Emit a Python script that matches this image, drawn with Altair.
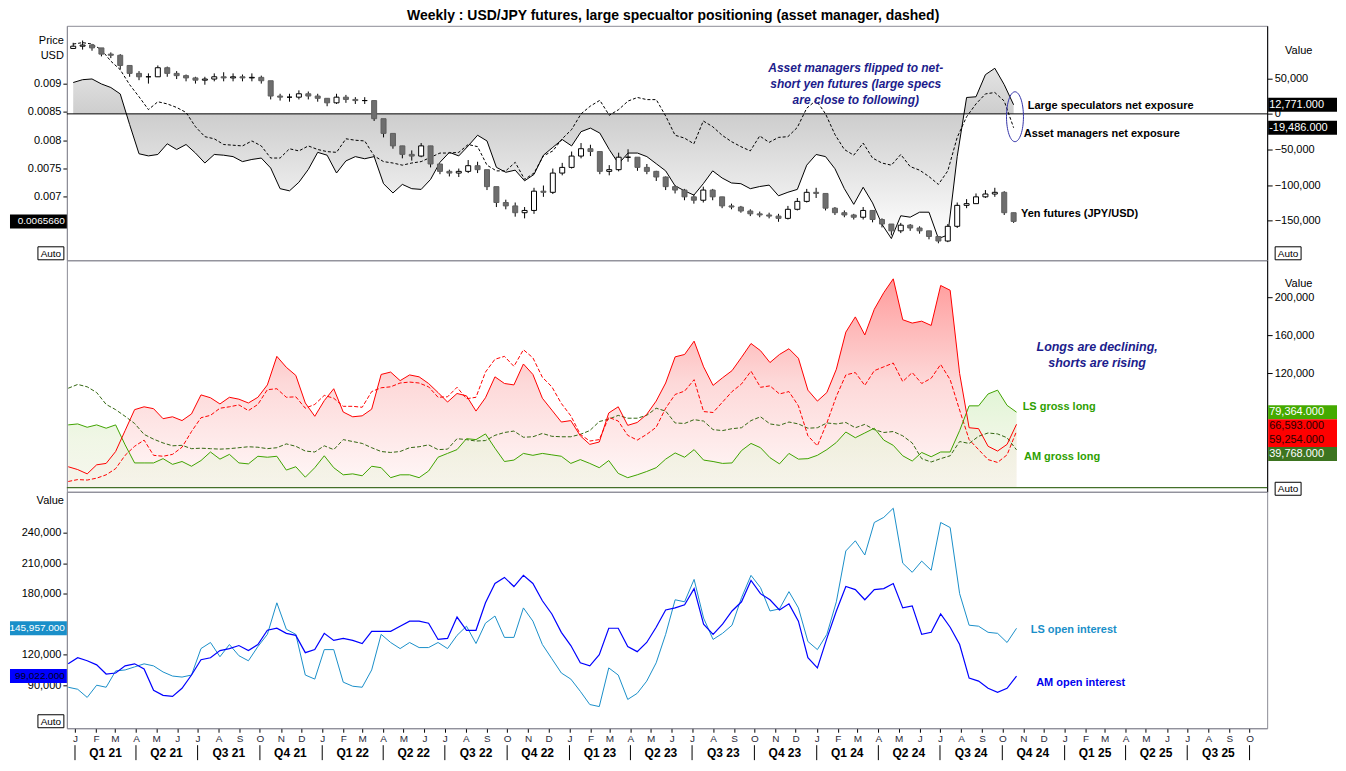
import altair as alt
import pandas as pd

# ---------------- data ----------------
# COT report dates, every second week from 22 Dec 2020 to 22 Oct 2024
cot_dates = pd.date_range("2020-12-22", periods=101, freq="14D").strftime("%Y-%m-%d").tolist()

# net exposure, thousands of contracts
ls_net_k = [44, 48, 49, 42, 37, 28, -15, -56, -59, -57,
            -42, -50, -43, -55, -69, -57, -58, -60, -67, -64,
            -62, -76, -105, -108, -96, -78, -54, -58, -83, -66,
            -60, -63, -60, -98, -111, -99, -105, -106, -92, -68,
            -54, -59, -45, -30, -38, -75, -82, -79, -94, -85,
            -58, -47, -36, -45, -25, -20, -27, -50, -70, -55,
            -55, -60, -70, -80, -101, -108, -114, -98, -80, -90,
            -97, -98, -105, -102, -100, -115, -110, -106, -72, -57,
            -60, -77, -105, -127, -103, -125, -155, -175, -143, -145,
            -138, -138, -175, -170, -60, 23, 24, 55, 64, 41, 12.771]
am_net_k = [98, 100, 98, 90, 74, 62, 41, 24, 6, 17,
            14, 9, 2, -18, -32, -35, -43, -44, -45, -38,
            -45, -62, -62, -49, -52, -45, -50, -53, -54, -35,
            -37, -38, -59, -67, -69, -72, -69, -67, -61, -55,
            -55, -54, -43, -46, -72, -80, -80, -68, -92, -83,
            -59, -52, -35, -22, 0, 11, 19, -2, 6, 18,
            23, 20, 20, -3, -30, -34, -42, -10, -18, -30,
            -39, -46, -52, -31, -40, -33, -32, -19, 8, 19,
            0, -29, -50, -58, -41, -62, -69, -72, -57, -74,
            -79, -88, -99, -80, -33, -4, 14, 28, 30, 18, -19.486]
# open interest (gross long + gross short), thousands
ls_oi_k = [88, 86, 78, 90, 88, 104, 105, 108, 111, 109,
           103, 99, 98, 100, 126, 132, 118, 130, 119, 114,
           128, 140, 171, 145, 140, 100, 96, 125, 125, 93,
           89, 88, 105, 140, 132, 126, 132, 127, 127, 132,
           126, 139, 148, 131, 151, 158, 137, 137, 166, 153,
           130, 116, 102, 96, 84, 71, 69, 107, 100, 76,
           82, 94, 112, 140, 174, 172, 194, 156, 135, 141,
           149, 176, 198, 186, 163, 165, 182, 166, 133, 125,
           140, 172, 222, 232, 218, 250, 255, 264, 210, 201,
           212, 203, 250, 245, 180, 149, 148, 142, 141, 132, 145.957]
am_oi_k = [111, 117, 114, 110, 101, 102, 109, 111, 106, 85,
           80, 79, 87, 100, 115, 117, 124, 126, 129, 124,
           130, 144, 146, 141, 139, 122, 125, 141, 134, 136,
           134, 131, 143, 143, 143, 148, 153, 153, 151, 135,
           136, 157, 144, 144, 171, 190, 196, 187, 198, 190,
           173, 160, 142, 129, 112, 109, 120, 146, 146, 128,
           123, 132, 147, 164, 166, 169, 185, 150, 140, 150,
           163, 172, 193, 180, 174, 164, 170, 153, 117, 107,
           136, 163, 187, 184, 174, 184, 185, 190, 166, 168,
           140, 142, 160, 147, 130, 97, 94, 87, 83, 87, 99.022]

# yen futures (JPY/USD), two-week candles
price_close = [0.00966, 0.00968, 0.00963, 0.00952, 0.00950, 0.00932, 0.00918, 0.00912, 0.00912, 0.00928,
               0.00918, 0.00914, 0.00910, 0.00906, 0.00908, 0.00912, 0.00910, 0.00912, 0.00910, 0.00911,
               0.00905, 0.00878, 0.00876, 0.00876, 0.00882, 0.00878, 0.00874, 0.00866, 0.00876, 0.00872,
               0.00870, 0.00870, 0.00838, 0.00812, 0.00790, 0.00775, 0.00772, 0.00790, 0.00758, 0.00745,
               0.00742, 0.00745, 0.00755, 0.00748, 0.00718, 0.00690, 0.00684, 0.00672, 0.00676, 0.00710,
               0.00708, 0.00742, 0.00752, 0.00772, 0.00785, 0.00780, 0.00745, 0.00748, 0.00770, 0.00770,
               0.00752, 0.00745, 0.00735, 0.00718, 0.00712, 0.00700, 0.00694, 0.00712, 0.00700, 0.00684,
               0.00682, 0.00675, 0.00670, 0.00668, 0.00666, 0.00662, 0.00678, 0.00692, 0.00708, 0.00706,
               0.00680, 0.00672, 0.00668, 0.00664, 0.00676, 0.00660, 0.00652, 0.00640, 0.00650, 0.00645,
               0.00640, 0.00630, 0.00622, 0.00648, 0.00685, 0.00688, 0.00700, 0.00705, 0.00708, 0.00672,
               0.006566]
price_high = [0.00972, 0.00976, 0.00970, 0.00962, 0.00955, 0.00952, 0.00928, 0.00922, 0.00918, 0.00932,
              0.00930, 0.00922, 0.00916, 0.00912, 0.00912, 0.00918, 0.00920, 0.00918, 0.00916, 0.00918,
              0.00914, 0.00904, 0.00882, 0.00882, 0.00888, 0.00886, 0.00882, 0.00874, 0.00882, 0.00880,
              0.00876, 0.00876, 0.00870, 0.00834, 0.00810, 0.00790, 0.00782, 0.00795, 0.00790, 0.00758,
              0.00748, 0.00750, 0.00765, 0.00762, 0.00740, 0.00715, 0.00695, 0.00690, 0.00682, 0.00716,
              0.00720, 0.00750, 0.00760, 0.00780, 0.00795, 0.00792, 0.00770, 0.00756, 0.00778, 0.00784,
              0.00768, 0.00758, 0.00746, 0.00736, 0.00720, 0.00714, 0.00704, 0.00718, 0.00714, 0.00700,
              0.00688, 0.00684, 0.00678, 0.00674, 0.00672, 0.00670, 0.00684, 0.00698, 0.00714, 0.00716,
              0.00704, 0.00682, 0.00676, 0.00670, 0.00682, 0.00676, 0.00662, 0.00652, 0.00654, 0.00652,
              0.00648, 0.00640, 0.00630, 0.00652, 0.00690, 0.00696, 0.00706, 0.00712, 0.00716, 0.00710,
              0.00672]
price_low = [0.00962, 0.00960, 0.00958, 0.00948, 0.00945, 0.00925, 0.00912, 0.00906, 0.00900, 0.00912,
             0.00912, 0.00908, 0.00904, 0.00900, 0.00898, 0.00904, 0.00904, 0.00904, 0.00904, 0.00904,
             0.00900, 0.00872, 0.00870, 0.00868, 0.00872, 0.00872, 0.00868, 0.00860, 0.00864, 0.00866,
             0.00864, 0.00864, 0.00834, 0.00805, 0.00785, 0.00768, 0.00764, 0.00770, 0.00752, 0.00740,
             0.00736, 0.00735, 0.00742, 0.00742, 0.00712, 0.00682, 0.00678, 0.00665, 0.00662, 0.00670,
             0.00700, 0.00705, 0.00738, 0.00750, 0.00768, 0.00772, 0.00740, 0.00738, 0.00745, 0.00762,
             0.00746, 0.00740, 0.00728, 0.00712, 0.00706, 0.00694, 0.00688, 0.00690, 0.00694, 0.00680,
             0.00678, 0.00672, 0.00666, 0.00664, 0.00662, 0.00656, 0.00660, 0.00676, 0.00690, 0.00698,
             0.00676, 0.00668, 0.00664, 0.00660, 0.00660, 0.00655, 0.00646, 0.00632, 0.00636, 0.00640,
             0.00635, 0.00625, 0.00618, 0.00620, 0.00645, 0.00680, 0.00690, 0.00698, 0.00700, 0.00668,
             0.00654]
price_open = [0.00962] + price_close[:-1]

# axis tick labels
quarter_labels = ["Q1 21", "Q2 21", "Q3 21", "Q4 21", "Q1 22", "Q2 22", "Q3 22", "Q4 22",
                  "Q1 23", "Q2 23", "Q3 23", "Q4 23", "Q1 24", "Q2 24", "Q3 24", "Q4 24",
                  "Q1 25", "Q2 25", "Q3 25"]
quarter_mid = ["2021-02-15", "2021-05-16", "2021-08-16", "2021-11-15",
               "2022-02-15", "2022-05-16", "2022-08-16", "2022-11-15",
               "2023-02-15", "2023-05-16", "2023-08-16", "2023-11-15",
               "2024-02-15", "2024-05-16", "2024-08-16", "2024-11-15",
               "2025-02-15", "2025-05-16", "2025-08-16"]
quarter_start = ["2021-01-01", "2021-04-01", "2021-07-01", "2021-10-01",
                 "2022-01-01", "2022-04-01", "2022-07-01", "2022-10-01",
                 "2023-01-01", "2023-04-01", "2023-07-01", "2023-10-01",
                 "2024-01-01", "2024-04-01", "2024-07-01", "2024-10-01",
                 "2025-01-01", "2025-04-01", "2025-07-01", "2025-10-01"]

# ---------------- tables ----------------
df = pd.DataFrame({
    "date": cot_dates,
    "ls_net": [round(v * 1000) for v in ls_net_k],
    "am_net": [round(v * 1000) for v in am_net_k],
    "ls_oi": [round(v * 1000) for v in ls_oi_k],
    "am_oi": [round(v * 1000) for v in am_oi_k],
})
cdf = pd.DataFrame({"date": cot_dates, "open": price_open, "close": price_close,
                    "high": price_high, "low": price_low})

last = df.iloc[-1]
ls_long_last = (last.ls_oi + last.ls_net) / 2
ls_short_last = (last.ls_oi - last.ls_net) / 2
am_long_last = (last.am_oi + last.am_net) / 2
am_short_last = (last.am_oi - last.am_net) / 2

# ---------------- styling ----------------
FONT = "Liberation Sans"
W, H1, H2, H3 = 1203, 235, 232, 237
NAVY = "#1c1c8c"

xs = alt.Scale(type="utc", domain=[alt.DateTime(year=2020, month=12, date=20, utc=True),
                                   alt.DateTime(year=2025, month=10, date=27, utc=True)])
price_scale = alt.Scale(domain=[0.00588, 0.01002], nice=False, zero=False)
net_scale = alt.Scale(domain=[-205500, 123600], nice=False, zero=False)
gross_scale = alt.Scale(domain=[-4300, 239000], nice=False, zero=False)
oi_scale = alt.Scale(domain=[47700, 280200], nice=False, zero=False)

x_axis = alt.Axis(tickCount=alt.TimeIntervalStep(interval="month", step=1),
                  labelExpr="slice(utcFormat(datum.value, '%b'), 0, 1)", title=None, grid=False,
                  tickSize=4, tickColor="black", domainColor="#8c8c96", labelFont=FONT,
                  labelFontSize=10, labelColor="#2a2a3a", labelPadding=1, labelOverlap=False,
                  labelFlush=False)


def X(axis=None):
    return alt.X("date:T", scale=xs, axis=axis)


one = pd.DataFrame({"a": [0]})

RECT_R = "M -1 -0.2029 L 1 -0.2029 L 1 0.2029 L -1 0.2029 Z"    # 69 x 14 box
RECT_L = "M -1 -0.2456 L 1 -0.2456 L 1 0.2456 L -1 0.2456 Z"    # 57 x 14 box
RECT_A = "M -1 -0.5 L 1 -0.5 L 1 0.5 L -1 0.5 Z"                # 26 x 13 box
ELLIPSE = ("M 0 -1 C 0.1878 -1 0.34 -0.5523 0.34 0 C 0.34 0.5523 0.1878 1 0 1 "
           "C -0.1878 1 -0.34 0.5523 -0.34 0 C -0.34 -0.5523 -0.1878 -1 0 -1 Z")


def px_text(text, x, y, size=11, align="left", color="black", weight="normal", style="normal", lh=15):
    return alt.Chart(one).mark_text(text=text, font=FONT, fontSize=size, align=align, baseline="middle",
                                    color=color, fontWeight=weight, fontStyle=style,
                                    lineHeight=lh).encode(x=alt.value(x), y=alt.value(y))


def auto_box(x, y):
    box = alt.Chart(one).mark_point(shape=RECT_A, size=676, filled=True, color="white", stroke="black",
                                    strokeWidth=1, opacity=1).encode(x=alt.value(x), y=alt.value(y))
    txt = px_text("Auto", x, y + 0.5, size=10, align="center")
    return [box, txt]


def value_boxes(rows, scale, x_center, shape, size, text_x, align, fsize):
    """rows: list of (value, label, background, text colour, pixel offset)"""
    layers = []
    for v, label, bg, fg, off in rows:
        d = pd.DataFrame({"v": [v]})
        layers.append(alt.Chart(d).mark_point(shape=shape, size=size, filled=True, opacity=1,
                                              strokeWidth=0, color=bg, yOffset=off).encode(
            x=alt.value(x_center), y=alt.Y("v:Q", scale=scale, axis=None)))
        layers.append(alt.Chart(d).mark_text(text=label, font=FONT, fontSize=fsize, align=align,
                                             baseline="middle", color=fg, yOffset=off).encode(
            x=alt.value(text_x), y=alt.Y("v:Q", scale=scale, axis=None)))
    return layers


# ---------------- top panel ----------------
gray_grad = alt.Gradient(gradient="linear", x1=1, x2=1, y1=0, y2=1, stops=[
    alt.GradientStop(color="#e4e4e4", offset=0),
    alt.GradientStop(color="#cdcdcd", offset=0.27),
    alt.GradientStop(color="#ffffff", offset=1)])

net_axis = alt.Axis(orient="right", values=[-150000, -100000, -50000, 0, 50000],
                    labelExpr="format(datum.value, ',')", title=None,
                    tickSize=5, tickColor="black", domainColor="black", labelPadding=2, grid=False)
price_axis = alt.Axis(orient="left", values=[0.007, 0.0075, 0.008, 0.0085, 0.009],
                      labelExpr="format(datum.value, '.4~f')", title=None, tickSize=4, tickColor="black",
                      domainColor="#8c8c96", labelPadding=2, grid=False)

base = alt.Chart(df)
net_area = base.mark_area(color=gray_grad, opacity=1).encode(
    x=X(), y=alt.Y("ls_net:Q", scale=net_scale, axis=net_axis), y2=alt.datum(0))
zero_rule = alt.Chart(one).mark_rule(color="black", strokeWidth=1).encode(
    y=alt.Y(datum=0, scale=net_scale, axis=None))
am_net_line = base.mark_line(color="black", strokeWidth=1, strokeDash=[3, 2]).encode(
    x=X(), y=alt.Y("am_net:Q", scale=net_scale, axis=None))
ls_net_line = base.mark_line(color="black", strokeWidth=1).encode(
    x=X(), y=alt.Y("ls_net:Q", scale=net_scale, axis=None))

wick = alt.Chart(cdf).mark_rule(color="black", strokeWidth=1).encode(
    x=X(), y=alt.Y("low:Q", scale=price_scale, axis=price_axis), y2="high:Q")
body = alt.Chart(cdf).mark_bar(width=5, strokeWidth=1).encode(
    x=X(), y=alt.Y("open:Q", scale=price_scale, axis=None), y2="close:Q",
    fill=alt.condition("datum.close >= datum.open", alt.value("white"), alt.value("#6e6e6e")),
    stroke=alt.condition("datum.close >= datum.open", alt.value("black"), alt.value("#5e5e5e")))

ellipse = alt.Chart(pd.DataFrame({"date": ["2024-10-24"], "v": [-4000]})).mark_point(
    shape=ELLIPSE, size=2500, filled=False, color="#3434a8", strokeWidth=1, opacity=1).encode(
    x=X(), y=alt.Y("v:Q", scale=net_scale, axis=None))

net_notes = pd.DataFrame({"date": ["2024-11-12", "2024-11-06"], "v": [11000, -27800],
                          "label": ["Large speculators net exposure", "Asset managers net exposure"]})
net_text = alt.Chart(net_notes).mark_text(font=FONT, fontSize=11, fontWeight="bold", align="left",
                                          baseline="middle", color="black").encode(
    x=X(), y=alt.Y("v:Q", scale=net_scale, axis=None), text="label:N")
yen_text = alt.Chart(pd.DataFrame({"date": ["2024-11-02"], "p": [0.006696]})).mark_text(
    text="Yen futures (JPY/USD)", font=FONT, fontSize=11, fontWeight="bold", align="left",
    baseline="middle", color="black").encode(x=X(), y=alt.Y("p:Q", scale=price_scale, axis=None))
flip_text = alt.Chart(pd.DataFrame({"date": ["2024-03-01"], "v": [63900]})).mark_text(
    text=["Asset managers flipped to net-", "short yen futures (large specs", "are close to following)"],
    font=FONT, fontSize=12, fontWeight="bold", fontStyle="italic", align="center", baseline="middle",
    color=NAVY, lineHeight=16).encode(x=X(), y=alt.Y("v:Q", scale=net_scale, axis=None))

top_layers = [net_area, zero_rule, am_net_line, ls_net_line, wick, body, ellipse,
              net_text, yen_text, flip_text,
              px_text(["Price", "USD"], -3, 15, size=11, align="right"),
              px_text("Value", W + 18, 25, size=11)]
top_layers += value_boxes([(last.ls_net, f"{last.ls_net:,.3f}", "black", "white", 0),
                           (last.am_net, f"{last.am_net:,.3f}", "black", "white", 0)],
                          net_scale, W + 35.5, RECT_R, 4761, W + 2, "left", 11)
top_layers += value_boxes([(price_close[-1], f"{price_close[-1]:.7f}", "black", "white", 0)],
                          price_scale, -28.5, RECT_L, 3249, -2, "right", 10)
top_layers += auto_box(-16, H1 - 7) + auto_box(W + 21, H1 - 7)
top = alt.layer(*top_layers).resolve_scale(y="independent").properties(width=W, height=H1)

# ---------------- middle panel ----------------
gdf = alt.Chart(df).transform_calculate(
    ls_long="(datum.ls_oi + datum.ls_net) / 2", ls_short="(datum.ls_oi - datum.ls_net) / 2",
    am_long="(datum.am_oi + datum.am_net) / 2", am_short="(datum.am_oi - datum.am_net) / 2")

red_grad = alt.Gradient(gradient="linear", x1=1, x2=1, y1=0, y2=1, stops=[
    alt.GradientStop(color="#ff9c9c", offset=0),
    alt.GradientStop(color="#fdd9d9", offset=0.5),
    alt.GradientStop(color="#fff8f8", offset=1)])
green_grad = alt.Gradient(gradient="linear", x1=1, x2=1, y1=0, y2=1, stops=[
    alt.GradientStop(color="#d2f0c0", offset=0),
    alt.GradientStop(color="#e8f2d8", offset=0.5),
    alt.GradientStop(color="#f2f2e4", offset=1)])

gross_axis = alt.Axis(orient="right", values=[120000, 160000, 200000],
                      labelExpr="format(datum.value, ',')", title=None,
                      tickSize=5, tickColor="black", domainColor="black", labelPadding=2, grid=False)


def GY(field):
    return alt.Y(field, scale=gross_scale, axis=None)


red_area = gdf.mark_area(color=red_grad, opacity=1).encode(
    x=X(), y=alt.Y("ls_short:Q", scale=gross_scale, axis=gross_axis), y2=alt.datum(0))
green_area = gdf.mark_area(color=green_grad, opacity=0.65).encode(
    x=X(), y=GY("ls_long:Q"), y2=alt.datum(0))
base_rule = alt.Chart(one).mark_rule(color="#44702a", strokeWidth=1.2).encode(
    y=alt.Y(datum=0, scale=gross_scale, axis=None))
am_long_line = gdf.mark_line(color="#336611", strokeWidth=1, strokeDash=[4, 2]).encode(
    x=X(), y=GY("am_long:Q"))
am_short_line = gdf.mark_line(color="#ff0000", strokeWidth=1, strokeDash=[4, 2]).encode(
    x=X(), y=GY("am_short:Q"))
ls_long_line = gdf.mark_line(color="#3fa300", strokeWidth=1).encode(
    x=X(), y=GY("ls_long:Q"))
ls_short_line = gdf.mark_line(color="#ff0000", strokeWidth=1).encode(
    x=X(), y=GY("ls_short:Q"))

gross_notes = pd.DataFrame({"date": ["2024-10-31", "2024-11-02"], "v": [84600, 32400],
                            "label": ["LS gross long", "AM gross long"]})
gross_text = alt.Chart(gross_notes).mark_text(font=FONT, fontSize=11, fontWeight="bold", align="left",
                                              baseline="middle", color="#2ea000").encode(
    x=X(), y=GY("v:Q"), text="label:N")
longs_text = alt.Chart(pd.DataFrame({"date": ["2025-02-18"], "v": [148300]})).mark_text(
    text=["Longs are declining,", "shorts are rising"], font=FONT, fontSize=12.5, fontWeight="bold",
    fontStyle="italic", align="center", baseline="middle", color=NAVY, lineHeight=16).encode(
    x=X(), y=GY("v:Q"))

mid_layers = [red_area, green_area, base_rule, am_long_line, am_short_line, ls_long_line, ls_short_line,
              gross_text, longs_text, px_text("Value", W + 18, 24, size=11)]
mid_layers += value_boxes([(ls_long_last, f"{ls_long_last:,.3f}", "#44aa00", "white", 0),
                           (ls_long_last, f"{ls_short_last:,.3f}", "#ff0000", "#2a0000", 14),
                           (ls_long_last, f"{am_short_last:,.3f}", "#ff0000", "#2a0000", 28),
                           (ls_long_last, f"{am_long_last:,.3f}", "#3d7420", "white", 42)],
                          gross_scale, W + 35.5, RECT_R, 4761, W + 2, "left", 11)
mid_layers += auto_box(W + 21, H2 - 3)
mid = alt.layer(*mid_layers).resolve_scale(y="independent").properties(width=W, height=H2)

# ---------------- bottom panel ----------------
oi_axis = alt.Axis(orient="left", values=[90000, 120000, 180000, 210000, 240000],
                   labelExpr="format(datum.value, ',')", title=None, tickSize=4, tickColor="black",
                   domainColor="#8c8c96", labelPadding=2, grid=False)


def BX():
    return X(x_axis)


def OY(field):
    return alt.Y(field, scale=oi_scale, axis=None)


ob = alt.Chart(df)
ls_oi_line = ob.mark_line(color="#1a8fc9", strokeWidth=1).encode(
    x=BX(), y=alt.Y("ls_oi:Q", scale=oi_scale, axis=oi_axis))
am_oi_line = ob.mark_line(color="#0000ff", strokeWidth=1.2).encode(
    x=BX(), y=OY("am_oi:Q"))

oi_notes = pd.DataFrame({"date": ["2024-11-12", "2024-11-20"], "v": [144400, 91700],
                         "label": ["LS open interest", "AM open interest"],
                         "c": ["#1a8fc9", "#0000ee"]})
oi_text = alt.Chart(oi_notes).mark_text(font=FONT, fontSize=11, fontWeight="bold", align="left",
                                        baseline="middle").encode(
    x=BX(), y=OY("v:Q"), text="label:N", color=alt.Color("c:N", scale=None))

q_text = alt.Chart(pd.DataFrame({"date": quarter_mid, "label": quarter_labels})).mark_text(
    font=FONT, fontSize=12, fontWeight="bold", align="center", baseline="middle", color="black").encode(
    x=BX(), y=alt.value(H3 + 25), text="label:N")
q_sep = alt.Chart(pd.DataFrame({"date": quarter_start})).mark_rule(color="black", strokeWidth=1).encode(
    x=BX(), y=alt.value(H3 + 17), y2=alt.value(H3 + 32))

bot_layers = [ls_oi_line, am_oi_line, oi_text, q_text, q_sep,
              px_text("Value", -3, 9, size=11, align="right")]
bot_layers += value_boxes([(last.ls_oi, f"{last.ls_oi:,.3f}", "#1a8fc9", "white", 0),
                           (last.am_oi, f"{last.am_oi:,.3f}", "#0000ff", "#000020", 0)],
                          oi_scale, -28.5, RECT_L, 3249, -2, "right", 10)
bot_layers += auto_box(-16, H3 - 7)
bot = alt.layer(*bot_layers).resolve_scale(y="independent").properties(width=W, height=H3)

# ---------------- assemble ----------------
chart = alt.vconcat(top, mid, bot, spacing=0, bounds="flush").properties(
    title=alt.TitleParams("Weekly : USD/JPY futures, large specualtor positioning (asset manager, dashed)",
                          font=FONT, fontSize=14, fontWeight="bold", anchor="middle", offset=2,
                          color="black"),
    padding={"left": 0, "top": 0, "right": 0, "bottom": 0},
    background="white",
).configure_view(stroke="#8c8c96", strokeWidth=1).configure_axis(
    grid=False, labelFont=FONT, labelFontSize=11, labelColor="black")

chart.save("out.html", embed_options={"renderer": "svg", "actions": False})
